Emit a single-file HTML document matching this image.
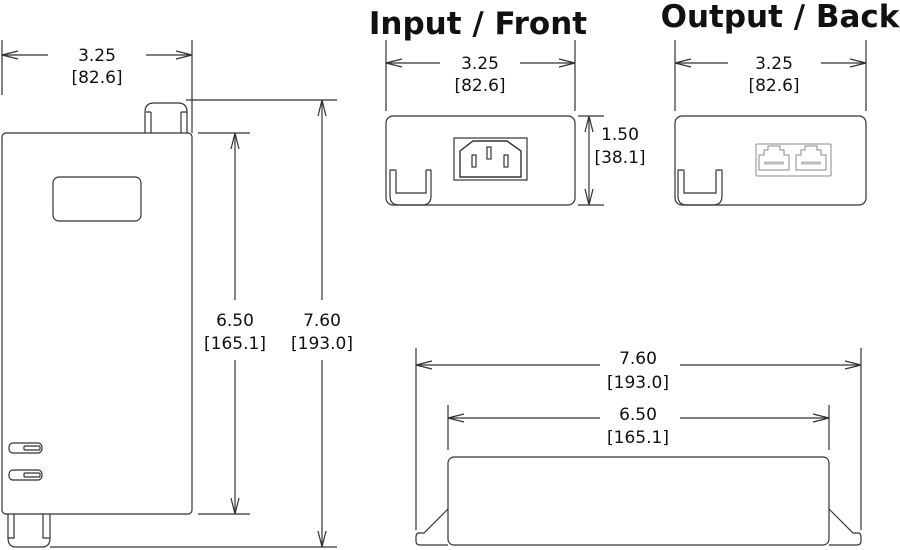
<!DOCTYPE html>
<html><head><meta charset="utf-8"><style>
html,body{margin:0;padding:0;background:#fff;}
svg{display:block;}
text{font-family:"DejaVu Sans","Liberation Sans",sans-serif;fill:#111;}
</style></head><body>
<svg width="900" height="550" viewBox="0 0 900 550" xmlns="http://www.w3.org/2000/svg">
<g fill="none" stroke="#333" stroke-width="1.2">
<!-- LEFT VIEW -->
<rect x="2" y="103" width="190" height="411" rx="4" style="display:none"/>
<path d="M145,133 V112 Q145,103 154,103 H178 Q187,103 187,112 V133"/>
<path d="M151,112 V133 M146,112 H151 M181,112 V133 M181,112 H187"/>
<rect x="2" y="133" width="190" height="381" rx="4"/>
<rect x="53" y="177" width="88" height="44" rx="6"/>
<rect x="9" y="443" width="33" height="10" rx="4"/>
<rect x="24" y="446" width="16" height="4" rx="1"/>
<rect x="9" y="470" width="33" height="10" rx="4"/>
<rect x="24" y="473" width="16" height="4" rx="1"/>
<path d="M8,514 V538 Q8,547 16,547 H42 Q50,547 50,538 V514"/>
<path d="M14,514 V538 H8 M43,514 V538 H50"/>
<!-- width dim -->
<path d="M2,40 V95 M192,40 V133 M2,55 H48 M146,55 H192"/>
<path d="M18,51 L2,55 L18,59 M176,51 L192,55 L176,59"/>
<!-- 6.50 -->
<path d="M198,133 H250 M198,514 H250 M235,133 V300 M235,360 V514"/>
<path d="M231,149 L235,133 L239,149 M231,498 L235,514 L239,498"/>
<!-- 7.60 -->
<path d="M186,100 H337 M50,547 H337 M322,100 V300 M322,360 V547"/>
<path d="M318,116 L322,100 L326,116 M318,531 L322,547 L326,531"/>

<!-- FRONT VIEW -->
<rect x="386" y="116" width="189" height="89" rx="7"/>
<path d="M386,40 V111 M575,40 V111 M386,63 H440 M520,63 H575"/>
<path d="M402,59 L386,63 L402,67 M559,59 L575,63 L559,67"/>
<path d="M578,116 H604 M578,205 H604 M589,116 V205"/>
<path d="M585,132 L589,116 L593,132 M585,189 L589,205 L593,189"/>
<path d="M390,170 V196 Q390,205 399,205 H422 Q431,205 431,196 V170"/>
<path d="M396,170 V193 H426 V170 M390,170 H396 M426,170 H431"/>
<rect x="454" y="138" width="73" height="42"/>
<path d="M460,177 V151 L473,141 H507 L521,151 V177 Z" stroke-width="1.4"/>
<rect x="487" y="147" width="4" height="12"/>
<rect x="472" y="155" width="4" height="12"/>
<rect x="504" y="155" width="4" height="12"/>

<!-- BACK VIEW -->
<rect x="675" y="116" width="191" height="89" rx="7"/>
<path d="M675,40 V111 M866,40 V111 M675,63 H728 M821,63 H866"/>
<path d="M691,59 L675,63 L691,67 M850,59 L866,63 L850,67"/>
<path d="M678,170 V196 Q678,205 687,205 H713 Q722,205 722,196 V170"/>
<path d="M684,170 V193 H716 V170 M678,170 H684 M716,170 H722"/>
<g stroke="#888" stroke-width="1">
<rect x="756" y="144" width="75" height="32" rx="1"/>
<path d="M759,170 V155 H764 V150 H768 V146 H780 V150 H784 V155 H789 V170 Z"/>
<path d="M796,170 V155 H801 V150 H805 V146 H817 V150 H821 V155 H826 V170 Z"/>
<path d="M764,163 H784 M801,163 H821" stroke="#bbb" stroke-width="3"/>
</g>

<!-- BOTTOM VIEW -->
<rect x="448" y="457" width="381" height="88" rx="6"/>
<path d="M448,509 L424,533 H419 Q416,533 416,537 V541 Q416,545 420,545 H448"/>
<path d="M829,509 L853,533 H858 Q861,533 861,537 V541 Q861,545 857,545 H829"/>
<path d="M416,348 V530 M861,348 V530 M416,365 H600 M680,365 H861"/>
<path d="M432,361 L416,365 L432,369 M845,361 L861,365 L845,369"/>
<path d="M448,405 V450 M829,405 V450 M448,418 H600 M680,418 H829"/>
<path d="M464,414 L448,418 L464,422 M813,414 L829,418 L813,422"/>
</g>
<g font-size="17" text-anchor="middle">
<text x="97" y="61">3.25</text><text x="97" y="83">[82.6]</text>
<text x="235" y="326">6.50</text><text x="235" y="349">[165.1]</text>
<text x="322" y="326">7.60</text><text x="322" y="349">[193.0]</text>
<text x="480" y="69">3.25</text><text x="480" y="91">[82.6]</text>
<text x="620" y="140">1.50</text><text x="620" y="163">[38.1]</text>
<text x="774" y="69">3.25</text><text x="774" y="91">[82.6]</text>
<text x="638" y="364">7.60</text><text x="638" y="388">[193.0]</text>
<text x="638" y="420">6.50</text><text x="638" y="443">[165.1]</text>
</g>
<g font-size="31" text-anchor="middle" font-weight="bold">
<text x="478" y="34" style="font-weight:600">Input / Front</text>
<text x="780" y="27" style="font-weight:600">Output / Back</text>
</g>
</svg>
</body></html>
